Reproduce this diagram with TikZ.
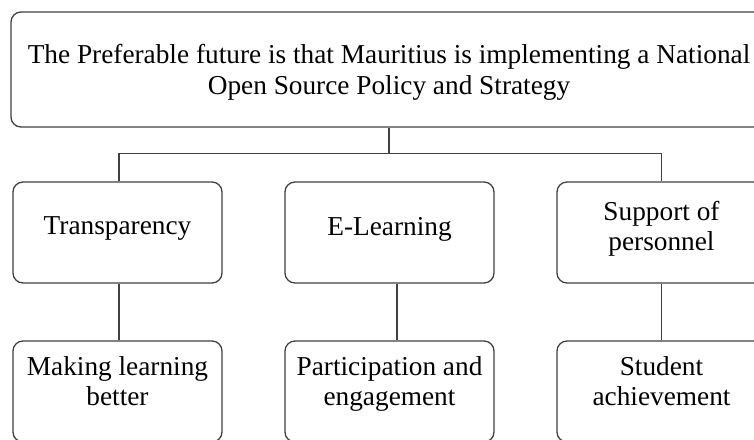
\documentclass[tikz,border=0pt]{standalone}
\usepackage{fontspec}
\setmainfont{Liberation Serif}
\usepackage{xcolor}
\definecolor{edge}{rgb}{0.25,0.25,0.25}
\usetikzlibrary{positioning}
\usetikzlibrary{calc}
\tikzset{box/.style={draw=edge, line width=1.3pt, rounded corners=10pt, align=center,
		font=\fontsize{27.3}{30.5}\selectfont, inner sep=0pt},
	midbox/.style={box, minimum width=209pt, minimum height=101pt, text depth=13pt},
	lowbox/.style={midbox, text depth=21pt},
	link/.style={draw=edge, line width=1.3pt}}

\begin{document}
\begin{tikzpicture}[x=1pt, y=-1pt]
\path[use as bounding box, clip] (0,0) rectangle (754,439);

% top
\node[box, minimum width=756pt, minimum height=115pt, text depth=0pt] (goal) at (389,69.5)
{The Preferable future is that Mauritius is implementing a National\\Open Source Policy and Strategy};

% middle row
\node[midbox] (trans) at (117.5,232.5) {Transparency};
\node[midbox] (elearn) at (389.5,232.5) {E-Learning};
\node[midbox] (support) at (661.5,232.5) {Support of\\personnel};

% bottom row
\node[lowbox] (making) at (117.5,391.5) {Making learning\\better};
\node[lowbox] (partic) at (389.5,391.5) {Participation and\\engagement};
\node[lowbox] (student) at (661.5,391.5) {Student\\achievement};

% connectors
\coordinate (bus) at (389,153.5);
\draw[link] (goal.south) -- (bus);
\draw[link] ([xshift=1.5pt]trans.north) |- (bus) -| (support.north);
\draw[link] ([xshift=1.5pt]trans.south) -- ([xshift=1.5pt]making.north);
\draw[link] ([xshift=7.5pt]elearn.south) -- ([xshift=7.5pt]partic.north);
\draw[link] (support.south) -- (student.north);
\end{tikzpicture}
\end{document}
